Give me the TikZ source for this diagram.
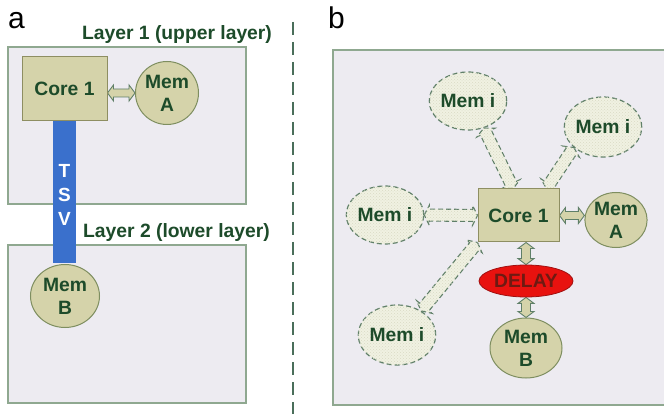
\documentclass[tikz,border=0pt]{standalone}
\usepackage{fontspec}
\setmainfont{Liberation Sans}
\usetikzlibrary{calc,shapes.geometric,patterns}
\definecolor{panelfill}{HTML}{EDEBF1}
\definecolor{panelline}{HTML}{8FA890}
\definecolor{khaki}{HTML}{D5D3AA}
\definecolor{khakiline}{HTML}{8E8E62}
\definecolor{memline}{HTML}{7E8E60}
\definecolor{dkgreen}{HTML}{1D4B2A}
\definecolor{tsvblue}{HTML}{3A70CC}
\definecolor{divline}{HTML}{4A6E5A}
\definecolor{dashline}{HTML}{5F7F68}
\definecolor{memifill}{HTML}{F0F1E2}
\definecolor{memidot}{HTML}{D9DBC4}
\definecolor{delayred}{HTML}{E8120F}
\definecolor{delayline}{HTML}{A01010}
\definecolor{delaytext}{HTML}{6E1A12}
\pgfdeclarelayer{panels}
\pgfdeclarelayer{arrows}
\pgfsetlayers{panels,arrows,main}
\tikzset{
  panel/.style={draw=panelline, line width=1.3pt, fill=panelfill},
  bigfont/.style={font=\bfseries\fontsize{19.3}{23}\selectfont},
  corebox/.style={rectangle, draw=khakiline, line width=1pt, fill=khaki, inner sep=0pt, text=dkgreen, bigfont},
  memnode/.style={ellipse, draw=memline, line width=1pt, fill=khaki, inner sep=0pt, align=center, text=dkgreen, bigfont},
  memi/.style={ellipse, draw=dashline, dash pattern=on 5pt off 3pt, line width=1.2pt, fill=memifill,
     postaction={pattern=crosshatch dots, pattern color=memidot}, inner sep=0pt, text=dkgreen, bigfont},
  delaynode/.style={ellipse, draw=delayline, line width=0.8pt, fill=delayred, inner sep=0pt, text=delaytext, bigfont},
  tsvbar/.style={rectangle, fill=tsvblue, draw=none, inner sep=0pt},
  tsvtext/.style={text=white, align=center, font=\bfseries\fontsize{19}{24}\selectfont},
  layerlabel/.style={text=dkgreen, font=\bfseries\fontsize{19.3}{23}\selectfont},
  panellabel/.style={anchor=base west, inner sep=0pt, font=\fontsize{30}{34}\selectfont},
  divider/.style={draw=divline, line width=1.6pt, dash pattern=on 13pt off 7pt},
  solidarr/.style={draw=dashline, fill=khaki, line width=0.9pt, line join=miter},
  dasharr/.style={draw=dashline, dash pattern=on 5pt off 3pt, fill=memifill, line width=1.1pt,
     postaction={pattern=crosshatch dots, pattern color=memidot}},
}
\newcommand\blockarr[6]{%
  \coordinate (bas) at (#2);
  \coordinate (bae) at (#3);
  \path[#1] (bas)
    -- ($(bas)!#6!(bae)!#4!90:(bae)$)
    -- ($(bas)!#6!(bae)!#5!90:(bae)$)
    -- ($(bae)!#6!(bas)!#5!-90:(bas)$)
    -- ($(bae)!#6!(bas)!#4!-90:(bas)$)
    -- (bae)
    -- ($(bae)!#6!(bas)!#4!90:(bas)$)
    -- ($(bae)!#6!(bas)!#5!90:(bas)$)
    -- ($(bas)!#6!(bae)!#5!-90:(bae)$)
    -- ($(bas)!#6!(bae)!#4!-90:(bae)$)
    -- cycle;
}
\begin{document}
\begin{tikzpicture}[x=1pt,y=-1pt]
\useasboundingbox (0,0) rectangle (664,414);
\begin{pgfonlayer}{panels}
  \fill[white] (0,0) rectangle (664,414);
  \draw[panel] (8,47) rectangle (246,204);
  \draw[panel] (8,245) rectangle (246,403);
  \draw[panel] (333,50) rectangle (672,405);
\end{pgfonlayer}
% divider
\draw[divider] (293,22) -- (293,414);
% labels
\node[panellabel] (la) at (8,29) {a};
\node[panellabel] (lb) at (328,29) {b};
\node[layerlabel] (l1) at (177,35) {Layer 1 (upper layer)};
\node[layerlabel] (l2) at (176.5,233) {Layer 2 (lower layer)};
% panel a
\node[tsvbar, minimum width=23pt, minimum height=142pt] (tsv) at (64.5,192) {};
\node[tsvtext] (tsvl) at (64.5,195) {T\\S\\V};
\node[corebox, minimum width=85pt, minimum height=64pt] (corea) at (64.5,89) {Core 1};
\node[memnode, minimum width=63pt, minimum height=63pt] (memaa) at (167,93) {Mem\\A};
\node[memnode, minimum width=69pt, minimum height=63pt] (memba) at (65,296) {Mem\\B};
% panel b
\node[corebox, minimum width=81pt, minimum height=53pt] (coreb) at (518.5,215.5) {Core 1};
\node[memnode, minimum width=57pt, minimum height=55pt] (memab) at (616,220) {Mem\\A};
\node[delaynode, minimum width=94pt, minimum height=32pt] (delay) at (526,281) {DELAY};
\node[memnode, minimum width=72pt, minimum height=60pt] (membb) at (526,348) {Mem\\B};
\node[memi, minimum width=66pt, minimum height=58pt] (mil) at (385,215) {Mem i};
\node[memi, minimum width=76pt, minimum height=58pt] (mitl) at (468,101) {Mem i};
\node[memi, minimum width=70pt, minimum height=60pt] (mitr) at (603,127) {Mem i};
\node[memi, minimum width=70pt, minimum height=60pt] (mibl) at (397,335) {Mem i};
% arrows
\begin{pgfonlayer}{arrows}
  \blockarr{solidarr}{corea.east |- memaa.west}{memaa.west}{8pt}{4pt}{6pt}
  \blockarr{solidarr}{coreb.east}{coreb.east -| memab.west}{8pt}{4pt}{6pt}
  \blockarr{solidarr}{coreb.south -| delay.north}{delay.north}{8pt}{4.5pt}{6pt}
  \blockarr{solidarr}{delay.south}{membb.north}{8pt}{4.5pt}{6pt}
  \blockarr{dasharr}{mil.east}{coreb.west}{10pt}{6pt}{5pt}
  \blockarr{dasharr}{mitl.-60}{coreb.101}{10pt}{6pt}{5pt}
  \blockarr{dasharr}{mitr.-145}{coreb.44}{10pt}{6pt}{5pt}
  \blockarr{dasharr}{coreb.south west}{mibl.45}{10pt}{6pt}{5pt}
\end{pgfonlayer}
\end{tikzpicture}
\end{document}
